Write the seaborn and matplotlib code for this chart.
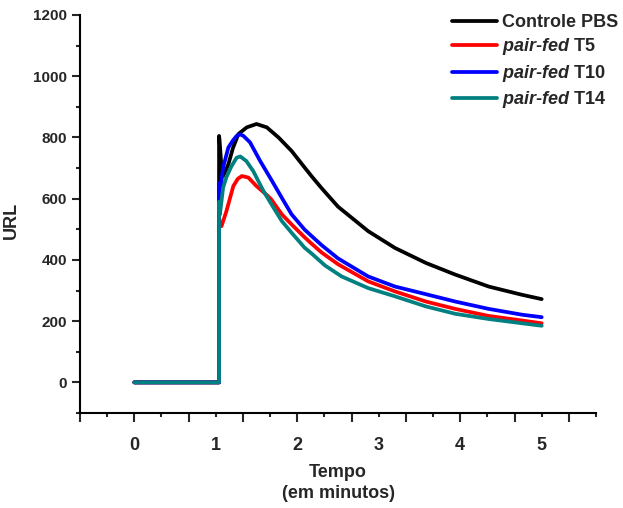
import matplotlib
matplotlib.use("Agg")
import matplotlib.pyplot as plt
import seaborn as sns
import pandas as pd
import numpy as np

# ---- data ----
series_names = ["Controle PBS", "pair-fed T5", "pair-fed T10", "pair-fed T14"]
series_colors = ["#000000", "#FF0000", "#0000FF", "#008080"]

ctrl_x = [0, 1.04, 1.04, 1.045, 1.065, 1.09, 1.154, 1.21, 1.277, 1.38, 1.50, 1.626, 1.77, 1.93, 2.09, 2.18, 2.30, 2.50, 2.87, 3.20, 3.58, 3.94, 4.35, 4.76, 5.0]
ctrl_y = [0, 0, 805, 795, 720, 674, 712, 765, 811, 833, 844, 833, 800, 756, 702, 672, 634, 574, 494, 439, 390, 352, 313, 286, 272]

t5_x = [0, 1.04, 1.04, 1.05, 1.07, 1.13, 1.215, 1.27, 1.32, 1.40, 1.50, 1.626, 1.68, 1.81, 1.93, 2.09, 2.18, 2.30, 2.50, 2.87, 3.20, 3.58, 3.94, 4.35, 4.76, 5.0]
t5_y = [0, 0, 540, 515, 510, 559, 641, 665, 674, 669, 641, 612, 598, 549, 516, 474, 452, 424, 386, 330, 297, 264, 240, 217, 202, 193]

t10_x = [0, 1.04, 1.04, 1.045, 1.09, 1.154, 1.21, 1.256, 1.30, 1.34, 1.42, 1.545, 1.69, 1.81, 1.93, 2.09, 2.18, 2.30, 2.50, 2.87, 3.20, 3.58, 3.94, 4.35, 4.76, 5.0]
t10_y = [0, 0, 650, 604, 702, 767, 790, 805, 810, 805, 784, 723, 658, 603, 549, 499, 477, 448, 405, 346, 313, 288, 264, 240, 221, 213]

t14_x = [0, 1.04, 1.04, 1.05, 1.09, 1.13, 1.19, 1.256, 1.30, 1.34, 1.375, 1.46, 1.585, 1.71, 1.81, 1.93, 2.09, 2.18, 2.34, 2.545, 2.87, 3.20, 3.58, 3.94, 4.35, 4.76, 5.0]
t14_y = [0, 0, 590, 548, 636, 670, 705, 734, 738, 730, 723, 690, 625, 570, 527, 489, 440, 420, 382, 346, 308, 281, 248, 224, 207, 193, 185]

x_tick_labels = ["0", "1", "2", "3", "4", "5"]
y_ticks = [0, 200, 400, 600, 800, 1000, 1200]

sns.set_style("white")
plt.rcParams["font.family"] = ["Liberation Sans", "DejaVu Sans"]
plt.rcParams["font.weight"] = "bold"
plt.rcParams["mathtext.fontset"] = "custom"
plt.rcParams["mathtext.bfit"] = "Liberation Sans:italic:bold"
plt.rcParams["mathtext.bf"] = "Liberation Sans:bold"

fig = plt.figure(figsize=(6.23, 5.08), dpi=100)
ax = fig.add_axes([80/623, 1 - 413/508, (596-80)/623, (413-15)/508])

frames = []
for name, xs, ys in zip(series_names, [ctrl_x, t5_x, t10_x, t14_x], [ctrl_y, t5_y, t10_y, t14_y]):
    frames.append(pd.DataFrame({"t": xs, "v": ys, "s": name}))
df = pd.concat(frames, ignore_index=True)

labels = {
    "Controle PBS": "Controle PBS",
    "pair-fed T5": r"$\mathbfit{pair}$-$\mathbfit{fed}$ T5",
    "pair-fed T10": r"$\mathbfit{pair}$-$\mathbfit{fed}$ T10",
    "pair-fed T14": r"$\mathbfit{pair}$-$\mathbfit{fed}$ T14",
}
LW = 2.7
for name, col in zip(series_names, series_colors):
    sub = df[df["s"] == name]
    sns.lineplot(data=sub, x="t", y="v", color=col, lw=LW, sort=False,
                 estimator=None, ax=ax, label=labels[name])

ax.set_xlim(-2/3, 17/3)
ax.set_ylim(-100, 1200)

for s in ["top", "right"]:
    ax.spines[s].set_visible(False)
for s in ["left", "bottom"]:
    ax.spines[s].set_linewidth(1.5)
    ax.spines[s].set_color("black")

# y ticks
ax.set_yticks(y_ticks)
ax.set_yticks(np.arange(-100, 1201, 100), minor=True)
ax.set_yticklabels([str(v) for v in y_ticks], fontsize=11, fontweight="bold")
ax.tick_params(axis="y", which="major", direction="out", length=6, width=1.5, pad=3.5, left=True)
ax.tick_params(axis="y", which="minor", direction="out", length=3, width=1.5, left=True)

# x ticks (long every 2/3, short in between); labels on a secondary axis
long_ticks = [-2/3 + 2*k/3 for k in range(10)]
short_ticks = [-1/3 + 2*k/3 for k in range(10)]
ax.set_xticks(long_ticks)
ax.set_xticks(short_ticks, minor=True)
ax.set_xticklabels([""] * len(long_ticks))
ax.tick_params(axis="x", which="major", direction="out", length=6.5, width=1.5, bottom=True)
ax.tick_params(axis="x", which="minor", direction="out", length=3, width=1.5, bottom=True)

sec = ax.secondary_xaxis("bottom")
sec.set_xticks(range(6))
sec.set_xticklabels(x_tick_labels, fontsize=13, fontweight="bold")
sec.tick_params(length=0, pad=17)
sec.spines["bottom"].set_visible(False)

ax.set_xlabel("")
ax.set_ylabel("URL", fontsize=13, fontweight="bold")
ax.yaxis.set_label_coords((20 - 80) / (596 - 80), (413 - 220) / (413 - 15))
fig.text(338/623, 1 - 483/508, "Tempo\n(em minutos)", ha="center", va="center",
         fontsize=13, fontweight="bold", linespacing=1.25)

leg = ax.legend(loc="upper left", bbox_to_anchor=(452/623, 1 - 14/508),
                bbox_transform=fig.transFigure, frameon=False, fontsize=13,
                handlelength=2.5, handletextpad=0.25, labelspacing=0.3,
                borderpad=0, borderaxespad=0)
for t in leg.get_texts():
    t.set_fontweight("bold")
for h in leg.get_lines():
    h.set_linewidth(LW)

fig.savefig("out.png", dpi=100)
